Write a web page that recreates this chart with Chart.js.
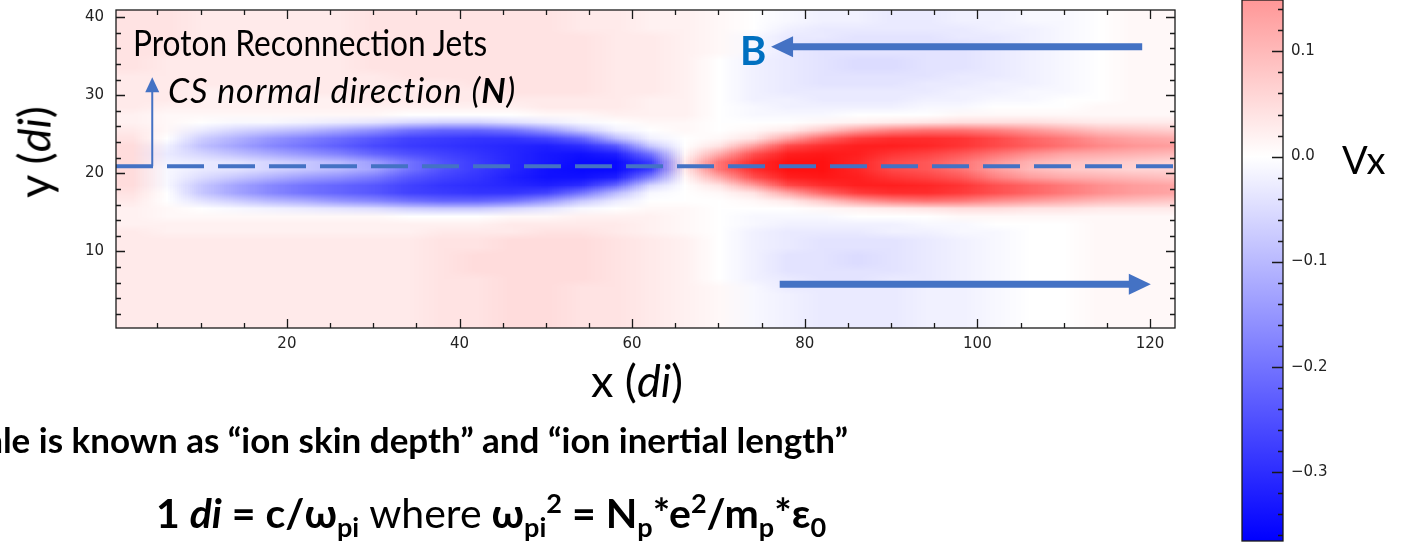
<!DOCTYPE html>
<html>
<head>
<meta charset="utf-8">
<script src="https://cdn.jsdelivr.net/npm/chart.js@4.4.1/dist/chart.umd.min.js"></script>
<style>
  html, body { margin: 0; padding: 0; background: #fff; }
  #page { position: relative; width: 1410px; height: 545px; overflow: hidden; }
  canvas { position: absolute; top: 0; }
  #field { left: 0; }
  #cbar { left: 1200px; }
  .t { position: absolute; line-height: 1; white-space: nowrap; font-family: Lato, "Noto Sans", sans-serif; color: #000; }
  .b { font-weight: bold; }
  .i { font-style: italic; }
  sub, sup { font-size: 66%; line-height: 0; }
</style>
</head>
<body>
<div id="page">
  <canvas id="field" width="1410" height="545"></canvas>
  <canvas id="cbar" width="210" height="545"></canvas>

  <div class="t" style="left:133px; top:23px; font-size:37px; transform:scaleX(0.855); transform-origin:left top;">Proton Reconnection Jets</div>
  <div class="t i" style="left:168px; top:73px; font-size:34px; letter-spacing:0.9px;">CS normal direction (<b>N</b>)</div>
  <div class="t b" style="left:740px; top:30px; font-size:40px; color:#0070C0;">B</div>
  <div class="t" style="left:637px; top:358px; font-size:45px; transform:translateX(-50%);">x (<span class="i">di</span>)</div>
  <div class="t" style="left:34px; top:152px; font-size:45px; transform:translate(-50%,-50%) rotate(-90deg);">y (<span class="i">di</span>)</div>
  <div class="t" style="left:1342px; top:140px; font-size:38px;">Vx</div>
  <div class="t b" style="right:562px; top:422px; font-size:35px;">ale is known as “ion skin depth” and “ion inertial length”</div>
  <div class="t b" style="left:491px; top:492px; font-size:41px; transform:translateX(-50%);">1 <span class="i">di</span> = c/ω<sub>pi</sub> <span style="font-weight:normal">where</span> ω<sub>pi</sub><sup>2</sup> = N<sub>p</sub>*e<sup>2</sup>/m<sub>p</sub>*ε<sub>0</sub></div>
</div>

<script>
// grid of Vx samples (units of 0.01), columns at xCenters, rows top to bottom at yCenters
const xCenters = [2, 6, 10, 14, 18, 22, 26, 30, 34, 38, 42, 46, 50, 54, 58, 62,
                  66, 70, 74, 78, 82, 86, 90, 94, 98, 102, 106, 110, 114, 118, 122];
const yCenters = [40.5, 39.5, 38.5, 37.5, 36.5, 35.5, 34.5, 33.5, 32.5, 31.5, 30.5,
                  29.5, 28.5, 27.5, 26.5, 25.5, 24.5, 23.5, 22.5, 21.5, 20.5, 19.5,
                  18.5, 17.5, 16.5, 15.5, 14.5, 13.5, 12.5, 11.5, 10.5, 9.5, 8.5,
                  7.5, 6.5, 5.5, 4.5, 3.5, 2.5, 1.5, 0.5];
const vxRows = [
  [4,4,3,3,3,3,3,4,4,4,4,4,4,3,3,2,2,1,0,-1,-2,-2,-3,-3,-2,-2,-1,-1,0,1,1],
  [4,4,3,3,3,3,3,4,4,4,4,4,4,3,3,2,2,1,0,-1,-2,-2,-3,-3,-2,-2,-1,-1,0,1,1],
  [4,4,3,3,3,3,3,4,4,4,4,4,4,3,3,2,2,1,0,-2,-3,-3,-3,-3,-3,-2,-2,-1,0,1,1],
  [4,4,3,3,3,3,3,4,4,4,4,4,4,4,3,3,2,1,-1,-3,-3,-4,-4,-4,-3,-3,-2,-1,0,1,1],
  [4,4,3,3,3,3,3,4,4,4,4,4,4,4,3,3,2,1,-1,-3,-4,-4,-4,-4,-4,-3,-2,-1,0,1,1],
  [4,4,3,3,3,3,3,4,4,4,4,4,4,4,3,3,2,1,-1,-3,-4,-4,-4,-4,-4,-3,-2,-1,0,1,1],
  [4,3,3,3,3,3,3,4,4,4,4,4,4,4,3,3,2,0,-2,-3,-4,-5,-5,-4,-4,-3,-2,-1,0,1,1],
  [4,3,3,3,3,3,3,4,4,4,4,4,4,4,3,3,2,0,-2,-3,-4,-5,-5,-4,-4,-3,-2,-1,0,1,1],
  [3,3,3,3,3,3,3,3,4,4,4,4,4,4,3,3,2,0,-2,-3,-4,-4,-4,-4,-3,-3,-2,-1,0,1,1],
  [3,3,3,3,3,3,3,3,3,3,4,4,4,4,3,3,2,0,-2,-3,-4,-4,-4,-3,-3,-2,-2,-1,0,1,1],
  [3,3,2,2,2,3,3,3,3,3,3,4,4,4,3,3,2,0,-2,-3,-3,-3,-3,-3,-2,-2,-1,-1,0,1,1],
  [3,3,2,2,2,2,2,3,3,3,3,3,3,3,3,2,2,0,-2,-2,-3,-3,-3,-2,-2,-1,-1,0,0,1,1],
  [3,2,2,2,2,2,2,2,2,2,2,2,3,3,3,2,2,0,-1,-2,-2,-2,-2,-1,-1,0,0,0,1,1,1],
  [2,1,1,1,1,1,1,1,0,0,0,0,1,1,2,2,2,0,-1,-1,-1,0,0,0,1,1,1,1,1,1,1],
  [2,1,0,-1,-1,-2,-3,-4,-6,-7,-7,-5,-3,-1,0,1,1,0,0,0,1,2,3,4,5,5,5,4,3,3,3],
  [3,1,-3,-6,-8,-10,-13,-16,-20,-22,-22,-20,-15,-8,-2,0,1,0,1,3,8,14,18,20,20,18,15,12,9,8,7],
  [4,0,-7,-11,-15,-18,-21,-24,-27,-28,-29,-29,-27,-22,-10,-2,0,1,4,13,22,28,30,30,29,26,22,19,15,13,12],
  [5,-2,-9,-13,-17,-20,-23,-26,-28,-29,-30,-31,-32,-30,-24,-8,0,4,14,26,30,32,32,31,29,26,23,20,17,15,14],
  [5,-3,-6,-9,-12,-15,-18,-22,-25,-27,-29,-31,-33,-34,-32,-20,1,12,25,32,33,32,29,27,24,20,16,13,12,11,10],
  [5,-2,-3,-4,-6,-8,-10,-14,-20,-25,-28,-31,-33,-35,-35,-28,3,20,30,34,34,31,26,24,20,15,11,9,8,7,6],
  [5,-1,-3,-4,-6,-8,-10,-13,-20,-25,-28,-31,-34,-35,-35,-28,3,20,30,34,34,31,26,24,20,14,10,8,7,6,6],
  [5,-1,-5,-8,-11,-14,-16,-19,-24,-27,-29,-32,-34,-34,-32,-18,1,12,25,32,33,32,29,27,24,18,14,12,11,10,9],
  [5,-1,-8,-13,-17,-20,-22,-24,-27,-29,-30,-31,-32,-30,-22,-6,0,4,14,26,30,32,32,31,29,25,22,19,16,14,13],
  [4,0,-8,-13,-17,-20,-22,-24,-27,-28,-29,-29,-27,-20,-10,-1,0,1,4,13,22,28,30,30,28,25,22,19,16,14,13],
  [3,0,-4,-7,-10,-12,-15,-17,-20,-22,-22,-20,-15,-8,-3,0,0,0,1,3,8,14,18,20,19,16,14,12,10,9,8],
  [2,1,0,-1,-2,-3,-4,-5,-7,-8,-8,-6,-4,-1,0,1,1,0,0,0,1,2,3,4,5,5,4,4,3,3,3],
  [2,1,1,1,1,1,1,1,0,0,0,1,1,2,2,2,1,0,-1,-1,-1,0,0,0,1,1,1,1,1,1,1],
  [2,2,2,2,2,2,2,2,2,2,2,3,3,3,3,2,1,0,-1,-2,-2,-2,-2,-1,-1,0,0,0,1,1,1],
  [3,2,2,2,2,2,2,2,2,3,3,3,4,4,3,2,1,0,-2,-3,-3,-3,-2,-2,-1,-1,0,0,1,1,1],
  [3,3,3,3,3,3,3,3,3,4,4,5,5,5,4,3,2,0,-2,-3,-4,-4,-4,-3,-2,-1,0,0,1,1,1],
  [3,3,3,3,3,3,3,3,3,4,4,5,5,5,4,3,2,0,-2,-3,-4,-4,-4,-3,-2,-1,0,0,1,1,1],
  [3,3,3,3,3,3,3,3,3,4,5,5,5,5,4,3,2,0,-2,-4,-4,-5,-4,-3,-2,-1,0,0,1,1,1],
  [3,3,3,3,3,3,3,3,3,4,5,5,5,5,4,3,2,0,-2,-4,-4,-5,-4,-3,-2,-1,0,0,1,1,1],
  [3,3,3,3,3,3,3,3,3,4,5,5,5,5,4,3,2,0,-2,-4,-4,-4,-4,-3,-2,-1,0,0,1,1,1],
  [3,3,3,3,3,3,3,3,3,4,4,5,5,5,4,3,2,0,-2,-3,-4,-4,-3,-3,-2,-1,0,0,1,1,1],
  [3,3,3,3,3,3,3,3,3,4,4,5,5,4,4,3,2,1,-1,-3,-3,-3,-3,-2,-2,-1,0,0,1,1,1],
  [3,3,3,3,3,3,3,3,3,4,4,5,5,4,4,3,2,1,-1,-2,-3,-3,-3,-2,-2,-1,0,0,1,1,1],
  [3,3,3,3,3,3,3,3,3,4,4,5,5,4,4,3,2,1,-1,-2,-3,-3,-3,-2,-2,-1,0,0,1,1,1],
  [3,3,3,3,3,3,3,3,3,4,4,5,5,4,4,3,2,1,-1,-2,-3,-3,-3,-2,-2,-1,0,0,1,1,1],
  [3,3,3,3,3,3,3,3,3,4,4,5,5,4,4,3,2,1,-1,-2,-3,-3,-3,-2,-2,-1,0,0,1,1,1],
  [3,3,3,3,3,3,3,3,3,4,4,5,5,4,4,3,2,1,-1,-2,-3,-3,-3,-2,-2,-1,0,0,1,1,1]
];

// axes
const xTicks = [20, 40, 60, 80, 100, 120];
const yTicks = [10, 20, 30, 40];
const cbTicks = [0.1, 0.0, -0.1, -0.2, -0.3];
const xMin = 0.2, xMax = 122.9, yMin = 0.2, yMax = 40.9;
const cbMin = -0.366, cbMax = 0.149;
const vLimit = 0.365;

// annotations
const csLineY = 20.9;
const normalArrow = { x: 4.4, y0: 20.9, y1: 32.3 };
const fieldArrows = [
  { x0: 119.1, x1: 76.1, y: 36.2 },
  { x0: 77.1, x1: 120.1, y: 5.8 }
];
const annBlue = '#4472C4';

// matplotlib 'bwr'
function bwr(v) {
  const t = Math.max(-1, Math.min(1, v / vLimit));
  if (t >= 0) { const c = Math.round(255 * (1 - t)); return [255, c, c]; }
  const c = Math.round(255 * (1 + t));
  return [c, c, 255];
}

function fmtTick(v) {
  if (Math.abs(v) < 1e-9) return '0.0';
  return (v < 0 ? '\u2212' : '') + Math.abs(v).toFixed(1);
}

const heatmap = {
  id: 'heatmap',
  beforeDatasetsDraw(chart) {
    const { ctx, chartArea: a, scales: { x, y } } = chart;
    const nx = xCenters.length, ny = yCenters.length;
    const off = document.createElement('canvas');
    off.width = nx; off.height = ny;
    const octx = off.getContext('2d');
    const img = octx.createImageData(nx, ny);
    vxRows.forEach((row, j) => row.forEach((v, i) => {
      const [r, g, b] = bwr(v / 100);
      const k = (j * nx + i) * 4;
      img.data[k] = r; img.data[k + 1] = g; img.data[k + 2] = b; img.data[k + 3] = 255;
    }));
    octx.putImageData(img, 0, 0);
    const dx = xCenters[1] - xCenters[0], dy = yCenters[0] - yCenters[1];
    const left = x.getPixelForValue(xCenters[0] - dx / 2);
    const right = x.getPixelForValue(xCenters[nx - 1] + dx / 2);
    const top = y.getPixelForValue(yCenters[0] + dy / 2);
    const bottom = y.getPixelForValue(yCenters[ny - 1] - dy / 2);
    ctx.save();
    ctx.beginPath();
    ctx.rect(a.left, a.top, a.right - a.left, a.bottom - a.top);
    ctx.clip();
    ctx.imageSmoothingEnabled = true;
    ctx.drawImage(off, left, top, right - left, bottom - top);
    ctx.restore();
  }
};

function arrowHead(ctx, tx, ty, dirX, dirY, len, half) {
  const px = -dirY, py = dirX;
  ctx.beginPath();
  ctx.moveTo(tx, ty);
  ctx.lineTo(tx - dirX * len + px * half, ty - dirY * len + py * half);
  ctx.lineTo(tx - dirX * len - px * half, ty - dirY * len - py * half);
  ctx.closePath();
  ctx.fill();
}

const overlay = {
  id: 'overlay',
  afterDatasetsDraw(chart) {
    const { ctx, chartArea: a, scales: { x, y } } = chart;
    ctx.save();
    ctx.strokeStyle = annBlue;
    ctx.fillStyle = annBlue;

    // CS normal direction arrow
    const nx = x.getPixelForValue(normalArrow.x);
    const ny0 = y.getPixelForValue(normalArrow.y0);
    const ny1 = y.getPixelForValue(normalArrow.y1);
    ctx.lineWidth = 2;
    ctx.beginPath();
    ctx.moveTo(nx, ny0);
    ctx.lineTo(nx, ny1 + 14);
    ctx.stroke();
    arrowHead(ctx, nx, ny1, 0, -1, 15, 7);

    // magnetic field arrows
    fieldArrows.forEach(f => {
      const p0 = x.getPixelForValue(f.x0), p1 = x.getPixelForValue(f.x1);
      const py = y.getPixelForValue(f.y);
      const dir = Math.sign(p1 - p0);
      ctx.lineWidth = 7;
      ctx.beginPath();
      ctx.moveTo(p0, py);
      ctx.lineTo(p1 - dir * 20, py);
      ctx.stroke();
      arrowHead(ctx, p1, py, dir, 0, 22, 10.5);
    });
    ctx.restore();

    // frame and inward ticks on all four sides
    ctx.save();
    ctx.strokeStyle = '#1a1a1a';
    ctx.lineWidth = 1.3;
    ctx.strokeRect(a.left, a.top, a.right - a.left, a.bottom - a.top);
    ctx.beginPath();
    for (let v = 5; v < xMax; v += 5) {
      const px = Math.round(x.getPixelForValue(v)) + 0.5;
      const len = v % 20 === 0 ? 9 : 5;
      ctx.moveTo(px, a.bottom); ctx.lineTo(px, a.bottom - len);
      ctx.moveTo(px, a.top); ctx.lineTo(px, a.top + len);
    }
    for (let v = 2; v < yMax; v += 2) {
      const py = Math.round(y.getPixelForValue(v)) + 0.5;
      const len = v % 10 === 0 ? 9 : 5;
      ctx.moveTo(a.left, py); ctx.lineTo(a.left + len, py);
      ctx.moveTo(a.right, py); ctx.lineTo(a.right - len, py);
    }
    ctx.stroke();
    ctx.restore();
  }
};

Chart.defaults.font.family = '"DejaVu Sans", sans-serif';
Chart.defaults.color = '#222';

new Chart(document.getElementById('field'), {
  type: 'scatter',
  data: {
    datasets: [{
      type: 'line',
      data: [{ x: xMin, y: csLineY }, { x: xMax, y: csLineY }],
      borderColor: annBlue,
      borderWidth: 4,
      borderDash: [37, 14],
      borderCapStyle: 'butt',
      pointRadius: 0
    }]
  },
  options: {
    responsive: false,
    animation: false,
    devicePixelRatio: 1,
    events: [],
    layout: { padding: { left: 0, top: 10, right: 235, bottom: 0 } },
    plugins: { legend: { display: false }, tooltip: { enabled: false } },
    scales: {
      x: {
        type: 'linear', min: xMin, max: xMax,
        grid: { display: false, drawTicks: false },
        border: { display: false },
        afterBuildTicks: s => { s.ticks = xTicks.map(v => ({ value: v })); },
        ticks: { padding: 7, maxRotation: 0, font: { size: 15 } },
        afterFit: s => { s.height = 217; s.paddingLeft = 0; s.paddingRight = 0; }
      },
      y: {
        type: 'linear', min: yMin, max: yMax,
        grid: { display: false, drawTicks: false },
        border: { display: false },
        afterBuildTicks: s => { s.ticks = yTicks.map(v => ({ value: v })); },
        ticks: { padding: 12, font: { size: 15 } },
        afterFit: s => { s.width = 116; s.paddingTop = 0; s.paddingBottom = 0; }
      }
    }
  },
  plugins: [heatmap, overlay]
});

// colour bar
const colorbar = {
  id: 'colorbar',
  beforeDraw(chart) {
    const { ctx, chartArea: a, scales: { y } } = chart;
    const g = ctx.createLinearGradient(0, y.getPixelForValue(vLimit), 0, y.getPixelForValue(-vLimit));
    g.addColorStop(0, 'rgb(255,0,0)');
    g.addColorStop(0.5, 'rgb(255,255,255)');
    g.addColorStop(1, 'rgb(0,0,255)');
    ctx.save();
    ctx.fillStyle = g;
    ctx.fillRect(a.left, a.top, a.right - a.left, a.bottom - a.top);
    ctx.strokeStyle = '#1a1a1a';
    ctx.lineWidth = 1.3;
    ctx.strokeRect(a.left, a.top, a.right - a.left, a.bottom - a.top);
    ctx.beginPath();
    for (let k = -18; k <= 7; k++) {
      const v = k / 50;
      const py = Math.round(y.getPixelForValue(v)) + 0.5;
      const len = k % 5 === 0 ? 11 : 5;
      ctx.moveTo(a.right, py); ctx.lineTo(a.right - len, py);
    }
    ctx.stroke();
    ctx.restore();
  }
};

new Chart(document.getElementById('cbar'), {
  type: 'scatter',
  data: { datasets: [] },
  options: {
    responsive: false,
    animation: false,
    devicePixelRatio: 1,
    events: [],
    layout: { padding: { left: 42, top: 0, right: 0, bottom: 4 } },
    plugins: { legend: { display: false }, tooltip: { enabled: false } },
    scales: {
      x: { display: false },
      y: {
        type: 'linear', position: 'right', min: cbMin, max: cbMax,
        grid: { display: false, drawTicks: false },
        border: { display: false },
        afterBuildTicks: s => { s.ticks = cbTicks.map(v => ({ value: v })); },
        ticks: { padding: 8, font: { size: 15 }, callback: v => fmtTick(v) },
        afterFit: s => { s.width = 127; s.paddingTop = 0; s.paddingBottom = 0; }
      }
    }
  },
  plugins: [colorbar]
});
</script>
</body>
</html>
